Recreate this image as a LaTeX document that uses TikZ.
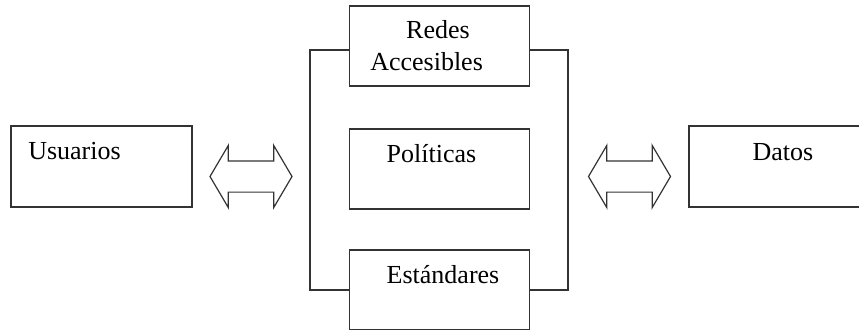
\documentclass[tikz,border=0pt]{standalone}
\usepackage{fontspec}
\setmainfont{Liberation Serif}
\usetikzlibrary{shapes.arrows, calc}

\tikzset{
	box/.style={draw=black!80, line width=0.9pt, rectangle, inner sep=0pt,
		minimum width=134.5pt, minimum height=60pt},
	label/.style={inner sep=0pt, font=\fontsize{19.5}{23}\selectfont},
	twoway/.style={draw=black!80, line width=0.9pt, double arrow, inner xsep=0pt,
		inner ysep=11.25pt, text height=0pt, text depth=0pt,
		double arrow head extend=11.6pt, double arrow tip angle=119,
		minimum height=61.5pt}
}

\begin{document}
\begin{tikzpicture}[x=0.75pt, y=-0.75pt]
	\useasboundingbox (0,0) rectangle (859,329);

	\node[box, minimum width=135.75pt, minimum height=60.75pt] (usuarios) at (101.5,166.5) {};
	\node[box] (redes)      at (439.5,46)  {};
	\node[box] (politicas)  at (439.5,169) {};
	\node[box] (estandares) at (439.5,290) {};
	\node[box, minimum width=141pt, minimum height=60.75pt] (datos) at (783,166.5) {};

	\node[label, anchor=base west] (tusuarios) at (28,159) {Usuarios};
	\node[label, anchor=base] (tredes) at (438,38) {Redes};
	\node[label, anchor=base west] (taccesibles) at (370,70) {Accesibles};
	\node[label, anchor=base] (tpoliticas) at (431.5,162) {Políticas};
	\node[label, anchor=base] (testandares) at (443,283) {Estándares};
	\node[label, anchor=base] (tdatos) at (783,160) {Datos};

	\node[twoway] (leftarrow)  at (251,176.5)   {};
	\node[twoway] (rightarrow) at (629.5,176.5) {};

	% bracket round the three boxes
	\coordinate (lbar) at (310,0);
	\coordinate (rbar) at (568,0);
	\draw[draw=black!80, line width=0.9pt] ([yshift=-3pt]redes.west) -| (lbar |- estandares.west) -- (estandares.west);
	\draw[draw=black!80, line width=0.9pt] ([yshift=-3pt]redes.east) -| (rbar |- estandares.east) -- (estandares.east);
\end{tikzpicture}
\end{document}
